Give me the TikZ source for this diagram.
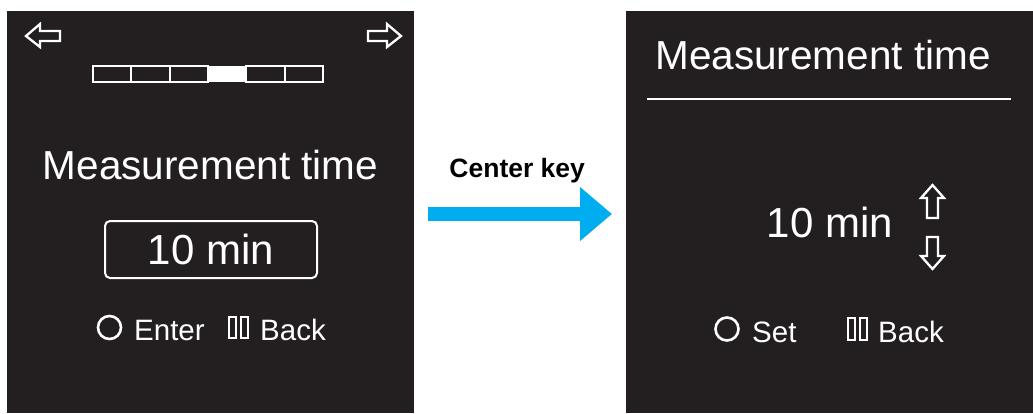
\documentclass[tikz,border=0pt]{standalone}
\usepackage{fontspec}
\setmainfont{Liberation Sans}
\usetikzlibrary{positioning,arrows.meta}

\definecolor{screen}{HTML}{231F20}
\definecolor{keyblue}{HTML}{00AEEF}

\begin{document}
\begin{tikzpicture}[
  x=1pt, y=-1pt,
  panel/.style={rectangle, fill=screen, draw=none, anchor=north west,
                minimum width=407pt, minimum height=402pt, inner sep=0pt},
  titel/.style={text=white, font=\fontsize{40.5}{44}\selectfont, inner sep=0pt},
  wert/.style={text=white, font=\fontsize{42}{46}\selectfont, inner sep=0pt},
  taste/.style={text=white, font=\fontsize{29.5}{32}\selectfont, inner sep=0pt, anchor=base west},
  symbol/.style={draw=white, line width=2.3pt, line join=miter},
  pfeil/.style={keyblue, line width=14pt,
                -{Triangle[length=32pt, width=52pt]},
                shorten <=14pt, shorten >=14pt}
]
\useasboundingbox (0,0) rectangle (1033,413);

% ---------------- Anzeige links: Menue ----------------
\node[panel] (links) at (7,11) {};
\draw[symbol] (26,36) -- (40,24) -- (40,31) -- (60,31) -- (60,41) -- (40,41) -- (40,47) -- cycle;
\draw[symbol] (401,36) -- (387,24) -- (387,31) -- (368,31) -- (368,41) -- (387,41) -- (387,47) -- cycle;
\foreach \i in {0,...,5} {
  \ifnum\i=3
    \fill[white] ({93+\i*38.33},66) rectangle ({93+(\i+1)*38.33},82);
  \else
    \draw[white, line width=1.8pt] ({93+\i*38.33},66) rectangle ({93+(\i+1)*38.33},82);
  \fi
}
\node[titel] (titel1) at (210.5,165) {Measurement time};
\node[wert, draw=white, line width=2pt, rounded corners=5pt,
      minimum width=212pt, minimum height=57pt] (wert1) at (211,249.5) {10 min};
\draw[white, line width=2.6pt] (109.5,327.5) circle (11.5);
\node[taste] (enter) at (134,340) {Enter};
\draw[white, line width=1.8pt] (229,317) rectangle (236,338);
\draw[white, line width=1.8pt] (241,317) rectangle (248,338);
\node[taste] (back1) at (260,340) {Back};

% ---------------- Anzeige rechts: Einstellung ----------------
\node[panel] (rechts) at (626,11) {};
\node[titel] (titel2) at (823,55) {Measurement time};
\draw[white, line width=1.2pt] (647,99) -- (1011,99);
\node[wert] (wert2) at (830,222) {10 min};
\draw[symbol] (932.5,185) -- (944,198) -- (938,198) -- (938,218) -- (927,218) -- (927,198) -- (921,198) -- cycle;
\draw[symbol] (932.5,269) -- (944,256) -- (938,256) -- (938,237) -- (927,237) -- (927,256) -- (921,256) -- cycle;
\draw[white, line width=2.6pt] (727,329) circle (11.5);
\node[taste] (set) at (752,342) {Set};
\draw[white, line width=1.8pt] (848,318) rectangle (855,340);
\draw[white, line width=1.8pt] (860,318) rectangle (867,340);
\node[taste] (back2) at (878,342) {Back};

% ---------------- Uebergang ----------------
\draw[pfeil] (links.east |- 0,214) -- (rechts.west |- 0,214)
  node[midway, above=21pt, xshift=-3pt, black, font=\fontsize{26.5}{30}\selectfont\bfseries] (taste) {Center key};

\end{tikzpicture}
\end{document}
